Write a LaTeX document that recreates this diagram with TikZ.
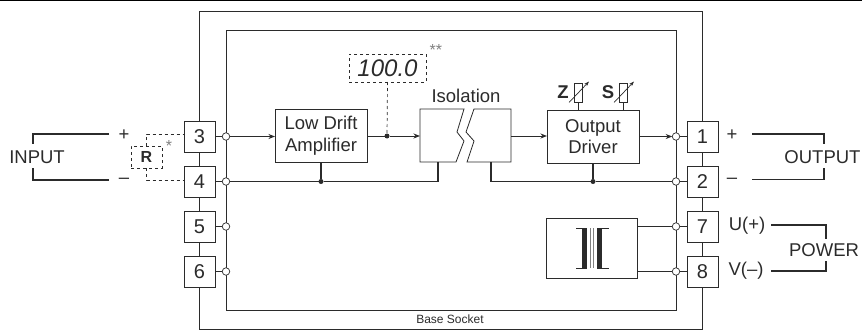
\documentclass[tikz,border=0pt]{standalone}
\usepackage{fontspec}
\setmainfont{Liberation Sans}
\usetikzlibrary{arrows.meta, positioning, calc}
\definecolor{ink}{HTML}{2B2B2B}

\begin{document}
\begin{tikzpicture}[
    x=1pt, y=-1pt,
    node distance = 14pt and 48pt,
    >={Stealth[length=6.5pt, width=5pt, inset=2pt]},
    font=\fontsize{18.5}{21.7}\selectfont,
    text=ink,
    block/.style = {draw=ink, fill=white, rectangle, line width=0.8pt, minimum height=53pt, minimum width=92pt, align=center, inner sep=0pt, outer sep=0pt},
    term/.style = {draw=ink, fill=white, rectangle, line width=0.8pt, minimum size=31pt, inner sep=0pt, outer sep=0pt, font=\fontsize{20}{24}\selectfont},
    port/.style = {draw=ink, fill=white, circle, line width=0.7pt, minimum size=7.5pt, inner sep=0pt, outer sep=0pt},
    junct/.style = {fill=ink, circle, minimum size=5pt, inner sep=0pt, outer sep=0pt},
    pot/.style = {draw=ink, fill=white, rectangle, line width=0.6pt, minimum width=8pt, minimum height=19pt, inner sep=0pt, outer sep=0pt},
    dashbox/.style = {draw=ink, dashed, line width=0.7pt, inner sep=0pt, outer sep=0pt},
    note/.style = {text=gray, font=\fontsize{16}{18}\selectfont},
    wire/.style = {draw=ink, line width=1pt},
    power/.style = {draw=ink, line width=1.2pt},
    arrow/.style = {wire, ->},
    dashwire/.style = {draw=ink, dashed, line width=0.7pt}
]
\useasboundingbox (0,0) rectangle (862,332);

% =========================================================
% FRAME AND BASE SOCKET
% =========================================================
\coordinate (edgeL) at (0,0.7);
\coordinate (edgeR) at (862,0.7);
\draw[draw=black, line width=1.4pt] (edgeL) -- (edgeR);

\coordinate (outerA) at (199.5,11);
\coordinate (outerB) at (702.5,329);
\coordinate (innerA) at (226,30);
\coordinate (innerB) at (676,310);
\draw[wire, line width=0.8pt] (outerA) rectangle (outerB);
\draw[wire, line width=0.8pt] (innerA) rectangle (innerB);
\node[font=\fontsize{12}{14}\selectfont] (socket) at (450,319) {Base Socket};

% =========================================================
% TERMINALS
% =========================================================
\node[term] (t3) at (199.5,136.5) {3};
\node[term, below=14pt of t3] (t4) {4};
\node[term, below=14pt of t4] (t5) {5};
\node[term, below=14pt of t5] (t6) {6};

\node[term] (t1) at (702.5,136.5) {1};
\node[term, below=14pt of t1] (t2) {2};
\node[term, below=14pt of t2] (t7) {7};
\node[term, below=14pt of t7] (t8) {8};

% Ports on the inner frame
\foreach \n in {3,4,5,6} {
    \node[port] (c\n) at (226,0 |- t\n) {};
    \draw[wire] (t\n.east) -- (c\n);
}
\foreach \n in {1,2,7,8} {
    \node[port] (c\n) at (676,0 |- t\n) {};
    \draw[wire] (t\n.west) -- (c\n);
}

% =========================================================
% SIGNAL BLOCKS
% =========================================================
\node[block] (amp) at (321,135.5) {Low Drift\\Amplifier};
\node[block] (driver) at (593,136.5) {Output\\Driver};
\node[block, minimum width=91pt, minimum height=60pt] (xfmr) at (591.5,248) {};

% Isolation, two halves with a broken edge
\coordinate (isoL) at (420,136);
\coordinate (isoR) at (511,136);
\coordinate (isoLb) at (438,162);
\coordinate (isoRb) at (491,162);
\draw[wire, line width=0.8pt, fill=white] (420,109) -- (464,109) -- (457,132) -- (464,141) -- (456,162) -- (420,162) -- cycle;
\draw[wire, line width=0.8pt, fill=white] (511,109) -- (474,109) -- (466,132) -- (474,141) -- (467,162) -- (511,162) -- cycle;
\node (iso) at (466,96) {Isolation};

% Display
\node[dashbox, minimum width=77pt, minimum height=28pt, font=\fontsize{24}{24}\selectfont\itshape] (display) at (387.5,68) {100.0};
\node[note, anchor=west] (note2) at (426,50) {**};
\node[junct] (jdisp) at (387,0 |- isoL) {};

% Adjusters
\node[pot] (potz) at (578,92.5) {};
\node[pot] (pots) at (623,92.5) {};
\node[font=\fontsize{18.5}{20}\selectfont\bfseries] (labz) at (563,92) {Z};
\node[font=\fontsize{18.5}{20}\selectfont\bfseries] (labs) at (608,92) {S};
\draw[wire, line width=0.7pt] (potz.south) -- (potz |- driver.north);
\draw[wire, line width=0.7pt] (pots.south) -- (pots |- driver.north);
\draw[wire, line width=0.7pt, -{Stealth[length=5pt, width=3.5pt]}] ([xshift=-9pt, yshift=-10pt]potz.center) -- ([xshift=11pt, yshift=11pt]potz.center);
\draw[wire, line width=0.7pt, -{Stealth[length=5pt, width=3.5pt]}] ([xshift=-9pt, yshift=-10pt]pots.center) -- ([xshift=11pt, yshift=11pt]pots.center);

% Transformer
\begin{scope}[shift={(xfmr.center)}]
    \coordinate (coreA) at (-7,-20);
    \coordinate (coreB) at (-7,20);
    \coordinate (coreC) at (8,-20);
    \coordinate (coreD) at (8,20);
    \draw[draw=ink, line width=5pt] (coreA) -- (coreB);
    \draw[draw=ink, line width=5pt] (coreC) -- (coreD);
    \draw[draw=ink, line width=0.8pt] (-15.5,-20) -- (-4.5,-20) (-15.5,20) -- (-4.5,20);
    \draw[draw=ink, line width=0.8pt] (5.5,-20) -- (17.5,-20) (5.5,20) -- (17.5,20);
    \draw[draw=gray, line width=0.6pt] (-1,-20) -- (-1,20) (1.5,-20) -- (1.5,20);
\end{scope}

% =========================================================
% WIRING: SIGNAL PATH
% =========================================================
\draw[arrow] (c3) -- (amp.west |- c3);
\draw[wire] (amp.east |- jdisp) -- (jdisp);
\draw[arrow] (jdisp) -- (isoL);
\draw[arrow] (isoR) -- (driver.west |- isoR);
\draw[arrow] (driver.east |- c1) -- (c1);
\draw[dashwire] (display.south) -- (jdisp);

% =========================================================
% WIRING: COMMON RETURN
% =========================================================
\node[junct] (jamp) at (amp.south |- c4) {};
\node[junct] (jdrv) at (driver.south |- c2) {};
\draw[power] (c4) -- (jamp);
\draw[power] (jamp) -| (isoLb);
\draw[power] (amp.south) -- (jamp);
\draw[power] (isoRb) |- (jdrv);
\draw[power] (jdrv) -- (c2);
\draw[power] (driver.south) -- (jdrv);

% Transformer to ports
\draw[wire] (xfmr.east |- c7) -- (c7);
\draw[wire] (xfmr.east |- c8) -- (c8);

% =========================================================
% INPUT SIDE
% =========================================================
\node (input) at (37,157) {INPUT};
\node (plusin) at (124,135) {+};
\node (minusin) at (124,181) {--};
\coordinate (inTop) at (109,134);
\coordinate (inBot) at (109,180);
\draw[power] (inTop) -| ([yshift=3pt]input.north -| 33,0);
\draw[power] (inBot) -| ([yshift=-1pt]input.south -| 33,0);

\node[dashbox, minimum width=31pt, minimum height=22pt, font=\fontsize{16}{18}\selectfont\bfseries] (res) at (146.5,157) {R};
\node[note] (note1) at (169,146) {*};
\draw[dashwire] (res.north) |- (t3.west |- inTop);
\draw[dashwire] (res.south) |- (t4.west |- inBot);

% =========================================================
% OUTPUT AND POWER SIDE
% =========================================================
\node (output) at (822.5,157) {OUTPUT};
\node (plusout) at (732,135) {+};
\node (minusout) at (732,181) {--};
\coordinate (outTop) at (752,134);
\coordinate (outBot) at (752,179.5);
\draw[power] (outTop) -| ([yshift=3pt]output.north -| 824,0);
\draw[power] (outBot) -| ([yshift=-1pt]output.south -| 824,0);

\node (power) at (824,250) {POWER};
\node (volt) at (747,226) {U(+)};
\node (vneg) at (746,271) {V(--)};
\coordinate (powTop) at (771,225);
\coordinate (powBot) at (771,271);
\draw[power] (powTop) -| ([yshift=1pt]power.north -| 826,0);
\draw[power] (powBot) -| ([yshift=-1pt]power.south -| 826,0);

\end{tikzpicture}
\end{document}
